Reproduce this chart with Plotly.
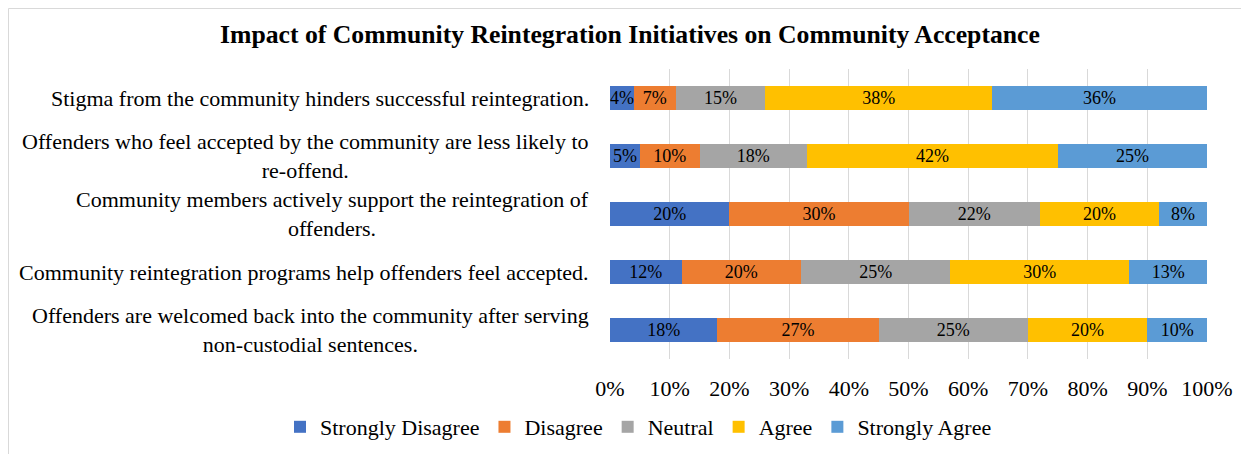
import plotly.graph_objects as go

statements = [
    "Stigma from the community hinders successful reintegration.",
    "Offenders who feel accepted by the community are less likely to<br>re-offend.",
    "Community members actively support the reintegration of<br>offenders.",
    "Community reintegration programs help offenders feel accepted.",
    "Offenders are welcomed back into the community after serving<br>non-custodial sentences.",
]
strongly_disagree = [4, 5, 20, 12, 18]
disagree = [7, 10, 30, 20, 27]
neutral = [15, 18, 22, 25, 25]
agree = [38, 42, 20, 30, 20]
strongly_agree = [36, 25, 8, 13, 10]

series = [
    ("Strongly Disagree", strongly_disagree, "#4472C4"),
    ("Disagree", disagree, "#ED7D31"),
    ("Neutral", neutral, "#A5A5A5"),
    ("Agree", agree, "#FFC000"),
    ("Strongly Agree", strongly_agree, "#5B9BD5"),
]

FONT = "Liberation Serif, Times New Roman, serif"
# page has an 8px body margin, so the figure is 8px smaller than the window
W, H = 1241, 446
L, T = 602, 61
R, B = W - 1199, H - 351
pw, ph = W - L - R, H - T - B

fig = go.Figure()
for name, vals, color in series:
    fig.add_trace(go.Bar(
        y=statements,
        x=[v / 100 for v in vals],
        name=name,
        orientation="h",
        marker=dict(color=color, line=dict(width=0)),
        text=[f"{v}%" for v in vals],
        textposition="inside",
        insidetextanchor="middle",
        textfont=dict(family=FONT, size=18, color="black"),
        hoverinfo="skip",
    ))

# category labels, centred per line like the original
for s in statements:
    fig.add_annotation(
        x=-19 / pw, xref="paper", y=s, yref="y",
        text=s, showarrow=False, xanchor="right", align="center",
        font=dict(family=FONT, size=22, color="black"),
    )

# outer chart border
fig.add_shape(
    type="rect", xref="paper", yref="paper",
    x0=(0.5 - L) / pw, x1=(W + 20 - L) / pw,
    y0=(T + ph - H - 20) / ph, y1=(T + ph - 0.5) / ph,
    line=dict(color="#D9D9D9", width=1), fillcolor="rgba(0,0,0,0)",
)

fig.update_layout(
    width=W, height=H,
    margin=dict(l=L, r=R, t=T, b=B, autoexpand=False),
    barmode="stack", bargap=0.6,
    paper_bgcolor="white", plot_bgcolor="white",
    font=dict(family=FONT, size=22, color="black"),
    uniformtext=dict(mode="show", minsize=18),
    title=dict(
        text="<b>Impact of Community Reintegration Initiatives on Community Acceptance</b>",
        x=622 / W, xanchor="center", y=1 - 26 / H, yanchor="middle",
        font=dict(family=FONT, size=25.7, color="black"),
    ),
    xaxis=dict(
        range=[0, 1], tickformat=".0%", dtick=0.1,
        showgrid=True, gridcolor="#D9D9D9", gridwidth=1,
        zeroline=False, showline=False, ticks="",
        ticklabelstandoff=14,
        tickfont=dict(family=FONT, size=22),
        fixedrange=True,
    ),
    yaxis=dict(
        autorange="reversed", showticklabels=False, ticks="",
        showgrid=False, zeroline=False, showline=False,
    ),
    legend=dict(
        orientation="h", xref="paper", yref="paper",
        x=(272 - L) / pw, xanchor="left",
        y=(T + ph - 419) / ph, yanchor="middle",
        itemwidth=30,
        font=dict(family=FONT, size=22), traceorder="normal",
    ),
    showlegend=True,
)

fig.write_html("out.html")
